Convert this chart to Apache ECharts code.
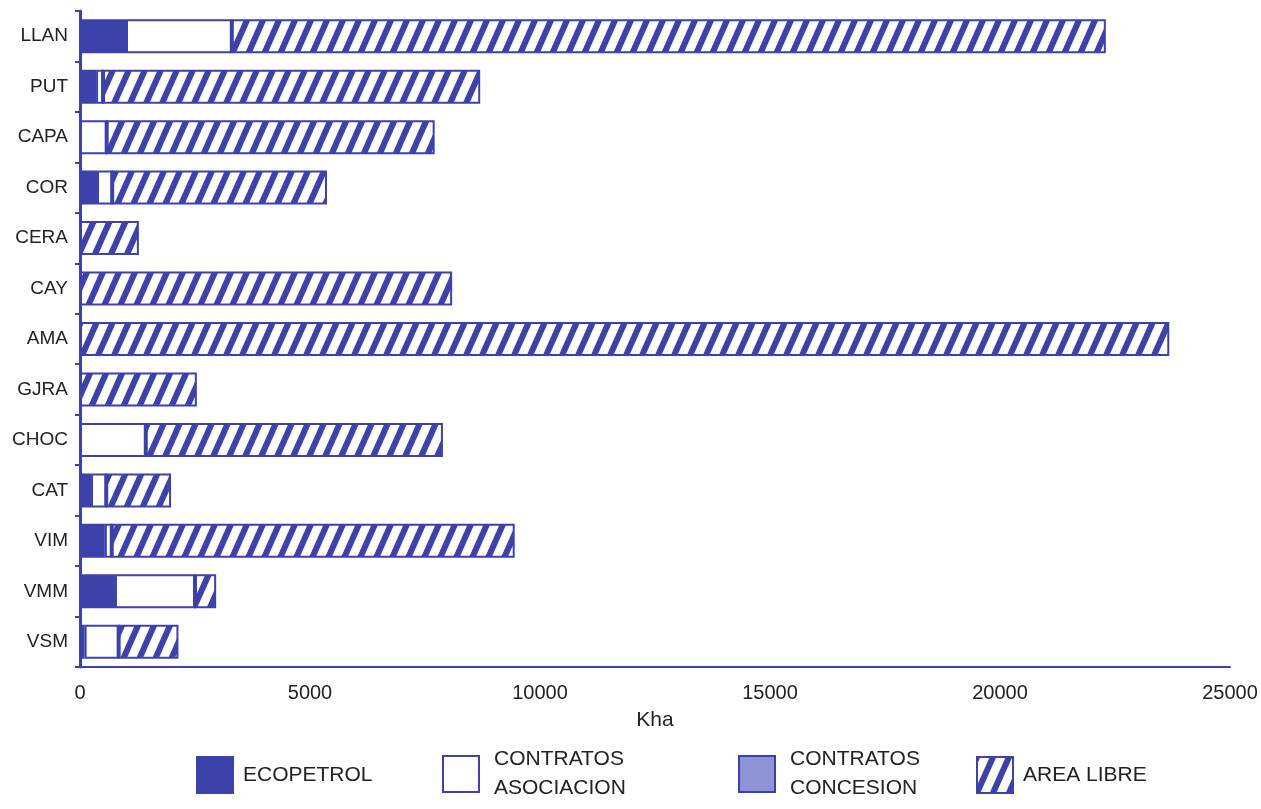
<!DOCTYPE html>
<html>
<head>
<meta charset="utf-8">
<script src="https://cdn.jsdelivr.net/npm/echarts@6/dist/echarts.min.js"></script>
<style>
  html, body { margin: 0; padding: 0; background: #fff; }
  #chart { width: 1261px; height: 809px; }
</style>
</head>
<body>
<div id="chart"></div>
<script>
  // cuencas, de arriba hacia abajo
  var cuencas = ['LLAN', 'PUT', 'CAPA', 'COR', 'CERA', 'CAY', 'AMA', 'GJRA', 'CHOC', 'CAT', 'VIM', 'VMM', 'VSM'];
  // Kha por tipo de area
  var ecopetrol  = [1000, 350, 0, 370, 0, 0, 0, 0, 0, 240, 540, 760, 100];
  var asociacion = [2300, 150, 580, 330, 0, 0, 0, 0, 1430, 330, 150, 1740, 740];
  var concesion  = [0, 0, 0, 0, 0, 0, 0, 0, 0, 0, 0, 0, 0];
  var areaLibre  = [19000, 8200, 7130, 4670, 1280, 8090, 23680, 2540, 6460, 1410, 8760, 460, 1300];
  var xTicks = [0, 5000, 10000, 15000, 20000, 25000];

  var azul = '#3c42a9';
  var font = 'Liberation Sans, Arial, sans-serif';

  // rayado diagonal para AREA LIBRE
  function rayado() {
    var w = 16, h = 36;
    var c = document.createElement('canvas');
    c.width = w; c.height = h;
    var ctx = c.getContext('2d');
    ctx.fillStyle = '#fff';
    ctx.fillRect(0, 0, w, h);
    ctx.strokeStyle = azul;
    ctx.lineWidth = 6;
    for (var k = -1; k <= 1; k++) {
      ctx.beginPath();
      ctx.moveTo(k * w - w, 2 * h);
      ctx.lineTo(k * w + 2 * w, -h);
      ctx.stroke();
    }
    return { image: c, repeat: 'repeat' };
  }

  function serie(nombre, datos, relleno) {
    return {
      name: nombre,
      type: 'bar',
      stack: 'total',
      barWidth: 34,
      data: datos,
      itemStyle: { color: relleno, borderColor: azul, borderWidth: 2 }
    };
  }

  function leyenda(nombre, x, y, dosLineas, sep) {
    var ts = { fontFamily: font, fontSize: 21, color: '#222', padding: [0, 0, 0, sep] };
    if (dosLineas) {
      ts.lineHeight = 29;
      ts.padding = [18, 0, 0, sep];
    }
    return {
      data: [{ name: nombre, icon: 'rect' }],
      left: x,
      top: y,
      padding: 0,
      itemWidth: 36,
      itemHeight: 36,
      itemGap: 10,
      formatter: function (n) { return dosLineas ? n.replace(' ', '\n') : n; },
      textStyle: ts
    };
  }

  var chart = echarts.init(document.getElementById('chart'));
  var option = {
    animation: false,
    backgroundColor: '#fff',
    grid: { left: 80, right: 31, top: 11, bottom: 142 },
    legend: [
      leyenda('ECOPETROL', 196, 756, false, 5),
      leyenda('CONTRATOS ASOCIACION', 442, 736, true, 10),
      leyenda('CONTRATOS CONCESION', 738, 736, true, 10),
      leyenda('AREA LIBRE', 976, 756, false, 5)
    ],
    xAxis: {
      type: 'value',
      min: xTicks[0],
      max: xTicks[xTicks.length - 1],
      interval: xTicks[1] - xTicks[0],
      name: 'Kha',
      nameLocation: 'middle',
      nameGap: 43,
      nameTextStyle: { fontFamily: font, fontSize: 21, color: '#222' },
      axisLine: { show: true, lineStyle: { color: azul, width: 2 } },
      axisTick: { show: false },
      splitLine: { show: false },
      axisLabel: {
        fontFamily: font, fontSize: 20, color: '#222', margin: 16,
        formatter: function (v) { return String(v); }
      }
    },
    yAxis: {
      type: 'category',
      data: cuencas,
      inverse: true,
      axisLine: { show: true, lineStyle: { color: azul, width: 3 } },
      axisTick: { show: true, length: 5, lineStyle: { color: azul, width: 2 } },
      axisLabel: { fontFamily: font, fontSize: 19, color: '#222', margin: 12 }
    },
    series: [
      serie('ECOPETROL', ecopetrol, azul),
      serie('CONTRATOS ASOCIACION', asociacion, '#fff'),
      serie('CONTRATOS CONCESION', concesion, '#8e93d8'),
      serie('AREA LIBRE', areaLibre, rayado())
    ]
  };
  chart.setOption(option);
</script>
</body>
</html>
